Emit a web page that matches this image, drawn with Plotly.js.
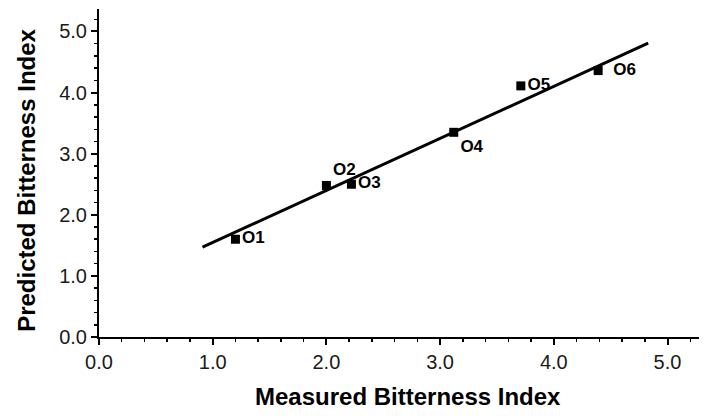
<!DOCTYPE html>
<html>
<head>
<meta charset="utf-8">
<script src="https://cdn.plot.ly/plotly-3.0.1.min.js"></script>
<style>html,body{margin:0;padding:0;background:#fff;}#chart{width:712px;height:419px;}</style>
</head>
<body>
<div id="chart"></div>
<script>
const sampleLabels = ["O1", "O2", "O3", "O4", "O5", "O6"];
const measured = [1.2, 2.0, 2.22, 3.12, 3.71, 4.39];
const predicted = [1.6, 2.48, 2.5, 3.35, 4.11, 4.36];
const labelPositions = ["middle right", "top right", "middle right", "bottom right", "middle right", "middle right"];
const fitX = [0.91, 4.83];
const fitY = [1.47, 4.81];
const xTitle = "Measured Bitterness Index";
const yTitle = "Predicted Bitterness Index";

const font = "Liberation Sans, Arial, Helvetica, sans-serif";

const traces = [
  {
    x: fitX, y: fitY, mode: "lines", type: "scatter",
    line: {color: "#000", width: 3}, hoverinfo: "skip", showlegend: false
  },
  {
    x: measured, y: predicted, mode: "markers+text", type: "scatter",
    text: sampleLabels.map(function (s, i) { return i === 5 ? "\u2002" + s : s; }),
    textposition: labelPositions,
    textfont: {family: font, size: 17, color: "#000", weight: "bold"},
    marker: {symbol: "square", size: 9, color: "#000"},
    showlegend: false
  }
];

const titleFont = {family: font, size: 24, color: "#000", weight: "bold"};

const layout = {
  width: 712, height: 419,
  margin: {l: 99, r: 13, t: 9, b: 82},
  paper_bgcolor: "#fff", plot_bgcolor: "#fff",
  font: {family: font, color: "#000"},
  showlegend: false,
  xaxis: {
    range: [0, 5.277], dtick: 1, tick0: 0, tickformat: ".1f",
    showline: true, linecolor: "#000", linewidth: 2, mirror: false,
    showgrid: false, zeroline: false,
    ticks: "outside", ticklen: 6, tickwidth: 2, tickcolor: "#000",
    minor: {ticks: "outside", dtick: 0.2, ticklen: 3, tickwidth: 1.5, tickcolor: "#000", showgrid: false},
    tickfont: {family: font, size: 20, color: "#1a1a1a"}
  },
  yaxis: {
    range: [0, 5.368], dtick: 1, tick0: 0, tickformat: ".1f",
    showline: true, linecolor: "#000", linewidth: 2, mirror: false,
    showgrid: false, zeroline: false,
    ticks: "outside", ticklen: 6, tickwidth: 2, tickcolor: "#000",
    minor: {ticks: "outside", dtick: 0.2, ticklen: 3, tickwidth: 1.5, tickcolor: "#000", showgrid: false},
    tickfont: {family: font, size: 20, color: "#1a1a1a"}
  },
  annotations: [
    {text: xTitle, xref: "paper", yref: "paper", x: 0.515, y: -0.18, xanchor: "center", yanchor: "middle",
     showarrow: false, font: titleFont},
    {text: yTitle, xref: "paper", yref: "paper", x: -0.12, y: 0.476, xanchor: "center", yanchor: "middle",
     textangle: -90, showarrow: false, font: titleFont}
  ]
};

Plotly.newPlot("chart", traces, layout, {displayModeBar: false, staticPlot: true});
</script>
</body>
</html>
